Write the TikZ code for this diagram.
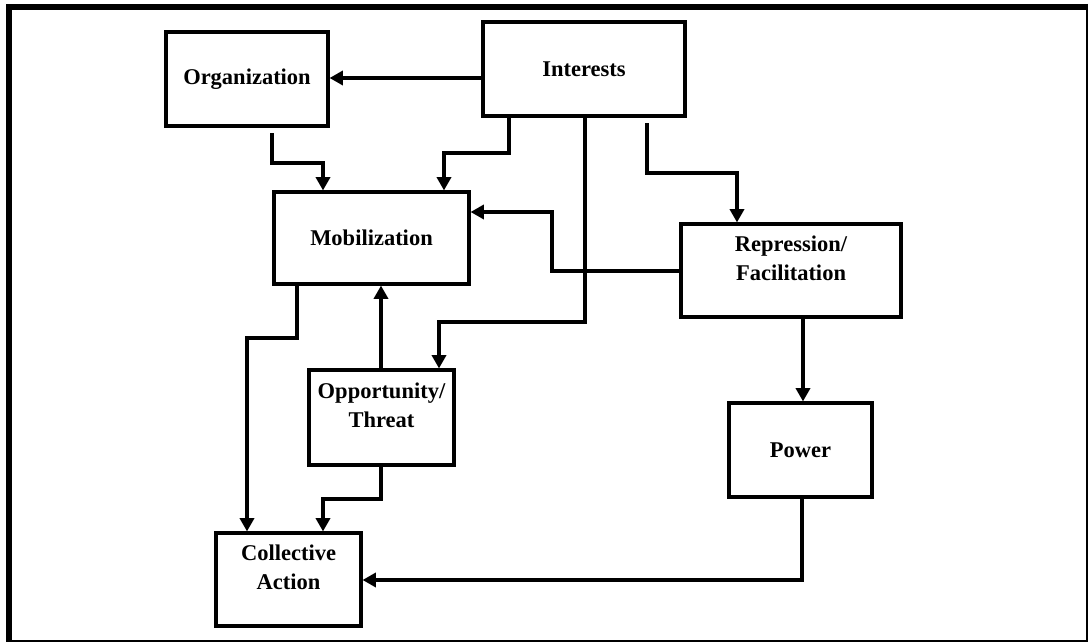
\documentclass[tikz,border=0pt]{standalone}
\usepackage{fontspec}
\setmainfont{Liberation Serif}
\usepackage{tikz}
\usetikzlibrary{arrows.meta}
\usetikzlibrary{calc}

\begin{document}
\begin{tikzpicture}[x=0.025cm,y=-0.025cm,>={Triangle[length=9.5pt,width=10pt]}]
\tikzstyle{box}=[draw,line width=2.2pt,align=center,inner sep=0pt,
  font=\fontsize{16}{20.6}\selectfont\bfseries]
\tikzstyle{arr}=[line width=2.9pt,->]
\useasboundingbox (0,0) rectangle (1088,643);
% frame
\fill (6,4) rectangle (1088,10);
\fill (6,4) rectangle (12,642);
\draw[line width=1.1pt] (1087,4) -- (1087,641) -- (6,641);
% boxes
\node[box,minimum width=4.05cm,minimum height=2.35cm] (org) at (247,79) {Organization};
\node[box,minimum width=5.05cm,minimum height=2.35cm] (interests) at (584,69) {Interests};
\node[box,minimum width=4.875cm,minimum height=2.3cm] (mob) at (371.5,238) {Mobilization};
\node[box,minimum width=5.5cm,minimum height=2.325cm] (repr) at (791,270.5) {Repression/\\Facilitation\\[-8.6pt]\strut};
\node[box,minimum width=3.625cm,minimum height=2.375cm] (opp) at (381.5,417.5) {Opportunity/\\Threat\\[-8.6pt]\strut};
\node[box,minimum width=3.575cm,minimum height=2.35cm] (power) at (800.5,450) {Power};
\node[box,minimum width=3.625cm,minimum height=2.325cm] (collective) at (288.5,579.5) {Collective\\Action\\[-8.6pt]\strut};
% connectors
\draw[arr] (interests.west |- 0,78) -- (org.east |- 0,78);
\draw[arr,shorten <=4.2pt] (org.south -| 272,0) |- (323,163) -- (mob.north -| 323,0);
\draw[arr] (interests.south -| 509,0) |- (444,153) -- (mob.north -| 444,0);
\draw[arr] (interests.south -| 585,0) |- (439,322) -- (opp.north -| 439,0);
\draw[arr,shorten <=4.2pt] (interests.south -| 647,0) |- (737,173) -- (repr.north -| 737,0);
\draw[arr] (repr.west |- 0,271) -| (552,212) -- (mob.east |- 0,212);
\draw[arr] (mob.south -| 297,0) |- (247,338) -- (collective.north -| 247,0);
\draw[arr] (opp.north -| 381,0) -- (mob.south -| 381,0);
\draw[arr] (opp.south -| 381,0) |- (323,499) -- (collective.north -| 323,0);
\draw[arr] (repr.south -| 803,0) -- (power.north -| 803,0);
\draw[arr] (power.south -| 802,0) |- (collective.east |- 0,580);
\end{tikzpicture}
\end{document}
